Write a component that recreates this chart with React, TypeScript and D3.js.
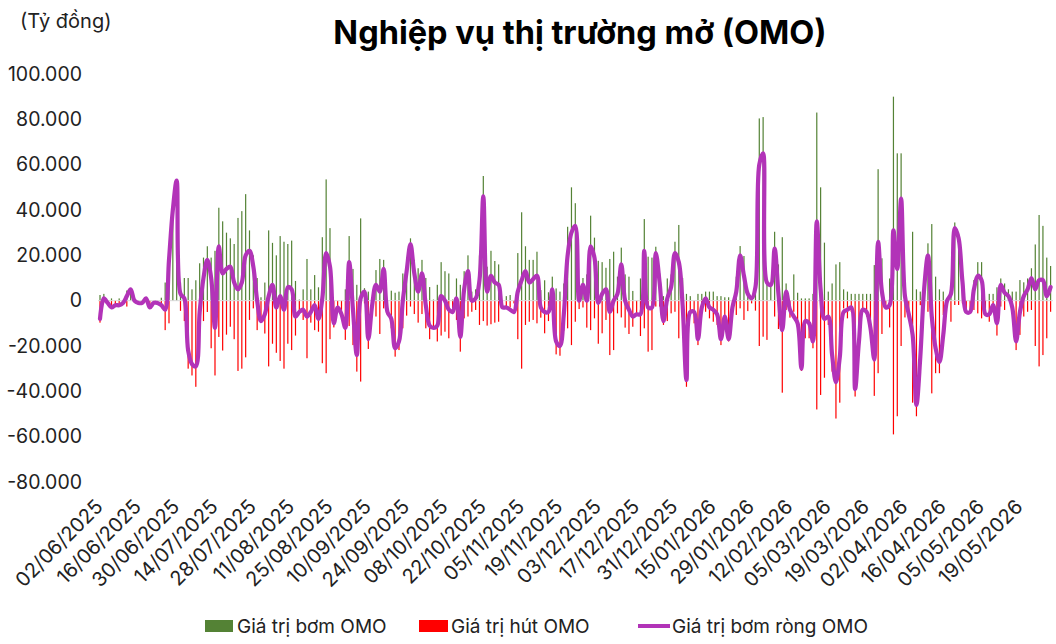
import React from "react";
import * as d3 from "d3";

const xTickLabels = [
  "02/06/2025", "16/06/2025", "30/06/2025", "14/07/2025", "28/07/2025",
  "11/08/2025", "25/08/2025", "10/09/2025", "24/09/2025", "08/10/2025",
  "22/10/2025", "05/11/2025", "19/11/2025", "03/12/2025", "17/12/2025",
  "31/12/2025", "15/01/2026", "29/01/2026", "12/02/2026", "05/03/2026",
  "19/03/2026", "02/04/2026", "16/04/2026", "05/05/2026", "19/05/2026",
];

const yTicks = [100000, 80000, 60000, 40000, 20000, 0, -20000, -40000, -60000, -80000];

// Giá trị bơm OMO (tỷ đồng), one value per business day
const injectValues = [
  2500, 3000, 0, 1000, 0, 1000, 0, 4500, 5000, 0,
  0, 0, 1000, 0, 0, 0, 1300, 8000, 20000, 40000,
  53000, 8000, 10000, 10000, 5000, 9000, 16500, 19000, 24000, 19000,
  22000, 41000, 35000, 30000, 27500, 25000, 36500, 39500, 47000, 31000,
  20000, 10000, 1500, 8000, 31000, 25500, 20000, 28500, 26000, 25000,
  26500, 8700, 500, 5000, 18400, 5000, 11300, 5900, 28000, 53500,
  32000, 0, 0, 0, 5000, 28500, 14000, 7000, 36300, 5500,
  4000, 0, 13500, 18400, 18000, 0, 4400, 3500, 4000, 12000,
  19000, 27500, 18000, 14300, 18000, 10000, 6000, 500, 7000, 17000,
  13000, 12000, 500, 9800, 7000, 13000, 20000, 4000, 5000, 20000,
  55000, 15000, 22000, 17500, 16000, 0, 2000, 2500, 0, 21000,
  39000, 24000, 18000, 18000, 21600, 4700, 9000, 3700, 10600, 5400,
  4000, 7600, 32600, 50000, 43000, 3200, 10000, 11600, 37500, 27800,
  17600, 17000, 14500, 18400, 21600, 10600, 23400, 11600, 10600, 4300,
  0, 9800, 36000, 19400, 19000, 23800, 12000, 2000, 9800, 11600,
  26000, 33400, 10000, 3000, 2000, 0, 3000, 3000, 4000, 4000,
  4000, 2000, 2000, 1500, 1500, 0, 10600, 24100, 19700, 4000,
  0, 10000, 80400, 81000, 8000, 7000, 30400, 16000, 28000, 7600,
  0, 11600, 3500, 1000, 1000, 1000, 3000, 83000, 50000, 25600,
  4000, 7600, 16000, 17000, 5000, 4000, 3000, 3000, 3000, 3000,
  3000, 3000, 15700, 58000, 18700, 0, 9800, 90000, 65000, 65000,
  9000, 0, 30400, 5000, 4000, 5000, 25300, 33800, 10600, 5000,
  4000, 0, 6900, 34500, 29400, 9800, 0, 0, 9100, 17000,
  17000, 0, 3000, 3000, 5900, 9800, 7600, 5000, 4000, 4000,
  9100, 8100, 9800, 14300, 24800, 37800, 33000, 19000, 15300,
];

// Giá trị hút OMO (tỷ đồng)
const absorbValues = [
  -9700, 0, -1000, -2600, -1500, -2000, 0, -2600, 0, -1000,
  -1000, -1000, 0, -2000, -1000, -1000, -2000, -13000, -10000, 0,
  0, -4500, -9000, -30000, -33000, -38000, -13000, -9000, -5000, -21000,
  -33000, -16000, -22000, -15000, -11500, -17000, -31000, -30000, -25000, -8500,
  -3400, -13000, -9000, -14500, -29000, -19000, -23000, -26600, -30000, -19000,
  -21800, -15400, -5600, -8500, -25400, -9700, -13000, -13700, -27600, -32000,
  -17000, -11800, -3400, -6300, -17300, -11200, -19600, -31300, -35700, -1200,
  -21300, -2600, -7000, -14700, -3400, -6300, -12200, -24700, -21800, -12200,
  -6600, -2600, -5900, -9700, -5900, -12200, -17000, -12200, -18000, -15400,
  -13700, -16600, -5600, -8500, -22500, -7800, -7000, -4900, -4100, -10700,
  -9000, -11000, -10400, -9700, -9300, -2600, -3000, -3000, -1200, -17000,
  -30000, -10700, -9300, -8500, -10000, -7500, -14400, -9000, -3700, -23700,
  -24300, -13200, -12200, -19600, -9300, -3700, -3000, -11900, -13000, -7800,
  -19000, -14400, -8500, -24000, -21800, -5600, -7400, -11900, -14700, -11500,
  -5600, -15600, -12200, -22500, -21800, -2600, -2600, -10700, -9000, -5600,
  -4900, -16600, -10700, -38000, -4900, -10000, -19600, -3400, -4900, -7800,
  -9300, -10700, -19600, -6300, -18000, -3400, -6300, -3400, -8500, -4600,
  -1200, -4400, -20000, -15900, -17300, 0, -7000, -12500, -40600, -4100,
  -7500, -4900, -10400, -31000, -16600, -16600, -21000, -48000, -41600, -34000,
  -10700, -31300, -52000, -45000, -3400, -7800, -4900, -42300, -21800, -4600,
  -7000, -14400, -42000, -32000, -14700, -3000, -11800, -59000, -51000, -20000,
  -7400, -6000, -45000, -51000, -2000, 0, -4900, -40900, -32000, -32000,
  -6300, 0, -9300, -1900, -1900, -1200, -4900, -4900, -4100, -5600,
  -7800, -6000, -9300, -4900, -15400, -2600, -4100, 0, -4900, -21800,
  -15100, -7000, -4900, -4100, -20000, -29000, -24000, -16600, -4900,
];

// Giá trị bơm ròng OMO (tỷ đồng)
const netValues = [
  -8000, 1000, -1000, -3000, -2000, -2000, -1000, 2000, 5000, 0,
  -1000, -1000, 1000, -3000, -1000, -1000, -2000, -4000, 18000, 40000,
  53000, 3000, 1000, -22000, -28000, -29000, -5000, 10000, 18000, 10000,
  -12000, 24000, 12000, 14000, 15000, 8000, 5000, 8000, 20000, 22000,
  15000, 0, -9000, -6000, 2000, 7000, -3000, 2000, -4000, 6000,
  5000, -7000, -5000, -4000, -7000, -5000, -2000, -8000, 1000, 21000,
  15000, -10000, -3000, -6000, -12000, 17000, -4000, -24000, 1000, 4000,
  -17000, -2000, 7000, 4000, 14000, -5000, -8000, -21000, -18000, 0,
  13000, 25000, 12000, 4000, 12000, -2000, -11000, -12000, -11000, 2000,
  0, -4000, -5000, 1000, -16000, 5000, 13000, 0, 1000, 9000,
  46000, 4000, 11000, 8000, 7000, -3000, -3000, -4000, -5000, 4000,
  9000, 13000, 8000, 9500, 11000, -3000, -5000, -5000, 5000, -18000,
  -20000, -6000, 20000, 30000, 33000, 0, 7000, 0, 24000, 19000,
  -1000, 3000, 5000, -5000, 0, 3000, 16000, 0, -4000, -7000,
  -6000, -6000, 22000, -3000, -3000, 21000, 8000, -9000, 1000, 6000,
  21000, 17000, -2000, -35000, -5000, -5000, -17000, -3000, 1000, -3000,
  -4000, -6000, -17000, -7000, -17000, -3000, 4000, 20000, 11000, 3000,
  1000, 6000, 60000, 65000, 8000, 7000, 23000, 3000, -13000, 4000,
  -4000, -7000, -10000, -30000, -9000, -10000, -18000, 35000, 5000, -8000,
  -7000, -24000, -36000, -25000, -5000, -4000, -3000, -39000, -18000, -4000,
  -5000, -12000, -26000, 26000, 4000, -3000, -2000, 31000, 14000, 45000,
  2000, -6000, -15000, -46000, -25000, 5000, 20000, -7000, -21000, -27000,
  -15000, 0, 3000, 32000, 27500, 8500, -5000, -5000, 5000, 11000,
  9000, -6000, -6000, -2000, -10000, 7000, 3500, 2000, -3000, -18000,
  -5000, 2000, 5000, 10000, 5000, 9000, 9000, 2000, 6000,
];

const FONT = "Inter, 'Noto Sans', sans-serif";
const GREEN = "#548235";
const RED = "#FF0000";
const PURPLE = "#B233B8";

const locale = d3.formatLocale({
  decimal: ",",
  thousands: ".",
  grouping: [3],
  currency: ["", ""],
  minus: "-",
});
const fmt = locale.format(",.0f");

export default function App() {
  const W = 1056;
  const H = 644;
  const n = netValues.length;
  const idx = d3.range(n);
  const x = d3.scaleLinear().domain([0, n - 1]).range([100, 1050.6]);
  const y = d3.scaleLinear().domain([-80000, 100000]).range([482, 74]);
  const y0 = y(0);
  const barW = 1.2;

  const line = d3
    .line<number>()
    .x((d, i) => x(i))
    .y((d) => y(d))
    .curve(d3.curveCatmullRom.alpha(0.5));

  return (
    <svg
      width={W}
      height={H}
      style={{ position: "absolute", left: 0, top: 0, background: "#fff" }}
      fontFamily={FONT}
    >
      <rect width={W} height={H} fill="#fff" />
      <text x={20} y={28} fontSize={20} fill="#222">(Tỷ đồng)</text>
      <text x={580} y={44} fontSize={32.5} fontWeight={700} textAnchor="middle" fill="#000">
        Nghiệp vụ thị trường mở (OMO)
      </text>

      {yTicks.map((t) => (
        <text key={t} x={82} y={y(t)} dy="0.35em" fontSize={19.5} textAnchor="end" fill="#222">
          {fmt(t)}
        </text>
      ))}

      {idx.map((i) =>
        injectValues[i] > 0 ? (
          <rect key={"g" + i} x={x(i) - barW / 2} y={y(injectValues[i])} width={barW}
            height={y0 - y(injectValues[i])} fill={GREEN} />
        ) : null
      )}
      {idx.map((i) =>
        absorbValues[i] < 0 ? (
          <rect key={"r" + i} x={x(i) - barW / 2} y={y0} width={barW}
            height={y(absorbValues[i]) - y0} fill={RED} />
        ) : null
      )}

      <line x1={98} x2={1053} y1={y0} y2={y0} stroke="#D9D9D9" strokeWidth={1} />

      <path d={line(netValues) || ""} fill="none" stroke={PURPLE} strokeWidth={4.2}
        strokeLinejoin="round" strokeLinecap="round" />

      {xTickLabels.map((lab, k) => {
        const px = x(k * 10) + 4;
        const py = 508;
        return (
          <text key={lab} fontSize={20} textAnchor="end" fill="#222"
            transform={`translate(${px},${py}) rotate(-45)`}>
            {lab}
          </text>
        );
      })}

      <rect x={205} y={620} width={28} height={12} fill={GREEN} />
      <text x={237} y={633} fontSize={19} fill="#222">Giá trị bơm OMO</text>
      <rect x={419} y={620} width={29} height={12} fill={RED} />
      <text x={451} y={633} fontSize={19} fill="#222">Giá trị hút OMO</text>
      <line x1={638} x2={670} y1={626} y2={626} stroke={PURPLE} strokeWidth={4} />
      <text x={672} y={633} fontSize={19} fill="#222">Giá trị bơm ròng OMO</text>
    </svg>
  );
}
